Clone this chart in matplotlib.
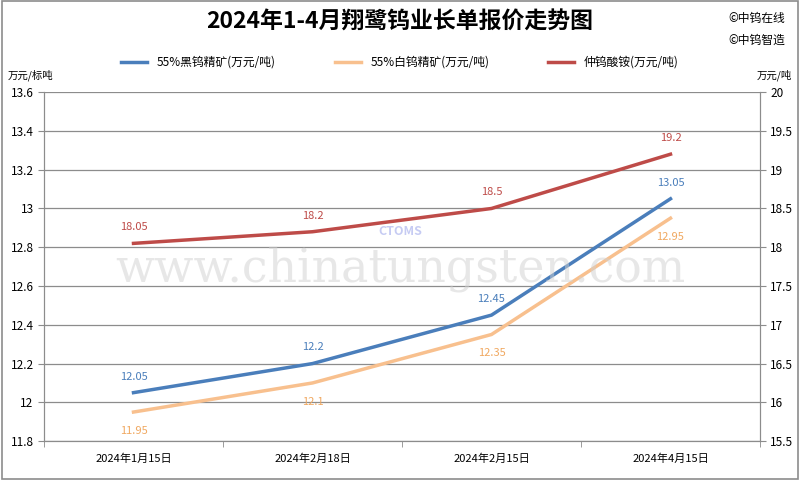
import matplotlib
matplotlib.use("Agg")
import matplotlib.pyplot as plt
from matplotlib.patches import Rectangle

plt.rcParams['font.family'] = ['Noto Sans CJK SC', 'DejaVu Sans']

dates = ["2024年1月15日", "2024年2月18日", "2024年2月15日", "2024年4月15日"]
black_w = [12.05, 12.2, 12.45, 13.05]
white_w = [11.95, 12.1, 12.35, 12.95]
apt = [18.05, 18.2, 18.5, 19.2]

c_blue = "#4A7EBB"
c_orange = "#F8C08E"
c_red = "#BE4B48"

fig = plt.figure(figsize=(8, 4.8), dpi=100)
fig.patches.append(Rectangle((0.002, 0.002), 0.996, 0.996, transform=fig.transFigure,
                             fill=False, edgecolor="#8c8c8c", linewidth=1.2))
ax = fig.add_axes([0.055, 0.081, 0.895, 0.727])
ax2 = ax.twinx()

x = list(range(len(dates)))
l1, = ax.plot(x, black_w, color=c_blue, lw=2.5, label="55%黑钨精矿(万元/吨)")
l2, = ax.plot(x, white_w, color=c_orange, lw=2.5, label="55%白钨精矿(万元/吨)")
l3, = ax2.plot(x, apt, color=c_red, lw=2.5, label="仲钨酸铵(万元/吨)")

for i in x:
    ax.annotate(f"{black_w[i]:g}", (i, black_w[i]), xytext=(0, 8), textcoords="offset points",
                ha="center", va="bottom", fontsize=8, color=c_blue)
    ax.annotate(f"{white_w[i]:g}", (i, white_w[i]), xytext=(0, -10), textcoords="offset points",
                ha="center", va="top", fontsize=8, color="#F0A860")
    ax2.annotate(f"{apt[i]:g}", (i, apt[i]), xytext=(0, 8), textcoords="offset points",
                 ha="center", va="bottom", fontsize=8, color=c_red)

ax.set_xlim(-0.5, 3.5)
ax.set_ylim(11.8, 13.6)
ax2.set_ylim(15.5, 20)
lt = [11.8 + 0.2 * k for k in range(10)]
ax.set_yticks(lt)
ax.set_yticklabels([f"{v:g}" for v in [round(t, 1) for t in lt]])
rt = [15.5 + 0.5 * k for k in range(10)]
ax2.set_yticks(rt)
ax2.set_yticklabels([f"{v:g}" for v in rt])
ax.set_xticks(x)
ax.set_xticklabels(dates)
ax.set_xticks([-0.5, 0.5, 1.5, 2.5, 3.5], minor=True)
ax.tick_params(axis="x", which="major", length=0, pad=9, labelsize=8)
ax.tick_params(axis="x", which="minor", length=4, color="#8c8c8c")
ax.tick_params(axis="y", labelsize=8.5, length=4, color="#8c8c8c")
ax2.tick_params(axis="y", labelsize=8.5, length=4, color="#8c8c8c")
ax.grid(axis="y", color="#8c8c8c", lw=0.9)
for a in (ax, ax2):
    for s in a.spines.values():
        s.set_color("#8c8c8c")
    a.spines["top"].set_visible(False)

# watermark
fig.text(0.5, 0.44, "www.chinatungsten.com", ha="center", va="center", fontsize=33,
         family="DejaVu Serif", color="#d0d0d0", alpha=0.5, zorder=0)
fig.text(0.5, 0.517, "CTOMS", ha="center", va="center", fontsize=9, fontweight="bold",
         style="italic", color="#b8bff0", alpha=0.8)

fig.text(0.5, 0.953, "2024年1-4月翔鹭钨业长单报价走势图", ha="center", va="center",
         fontsize=16.5, fontweight="bold")
fig.text(0.91, 0.962, "©中钨在线", ha="left", va="center", fontsize=8.5)
fig.text(0.91, 0.917, "©中钨智造", ha="left", va="center", fontsize=8.5)
fig.text(0.01, 0.843, "万元/标吨", ha="left", va="center", fontsize=7.5)
fig.text(0.99, 0.843, "万元/吨", ha="right", va="center", fontsize=7.5)

fig.legend(handles=[l1, l2, l3], loc="center", bbox_to_anchor=(0.5, 0.87), ncol=3,
           frameon=False, fontsize=8.5, handlelength=2.2, columnspacing=5)

fig.savefig("out.png", dpi=100)
